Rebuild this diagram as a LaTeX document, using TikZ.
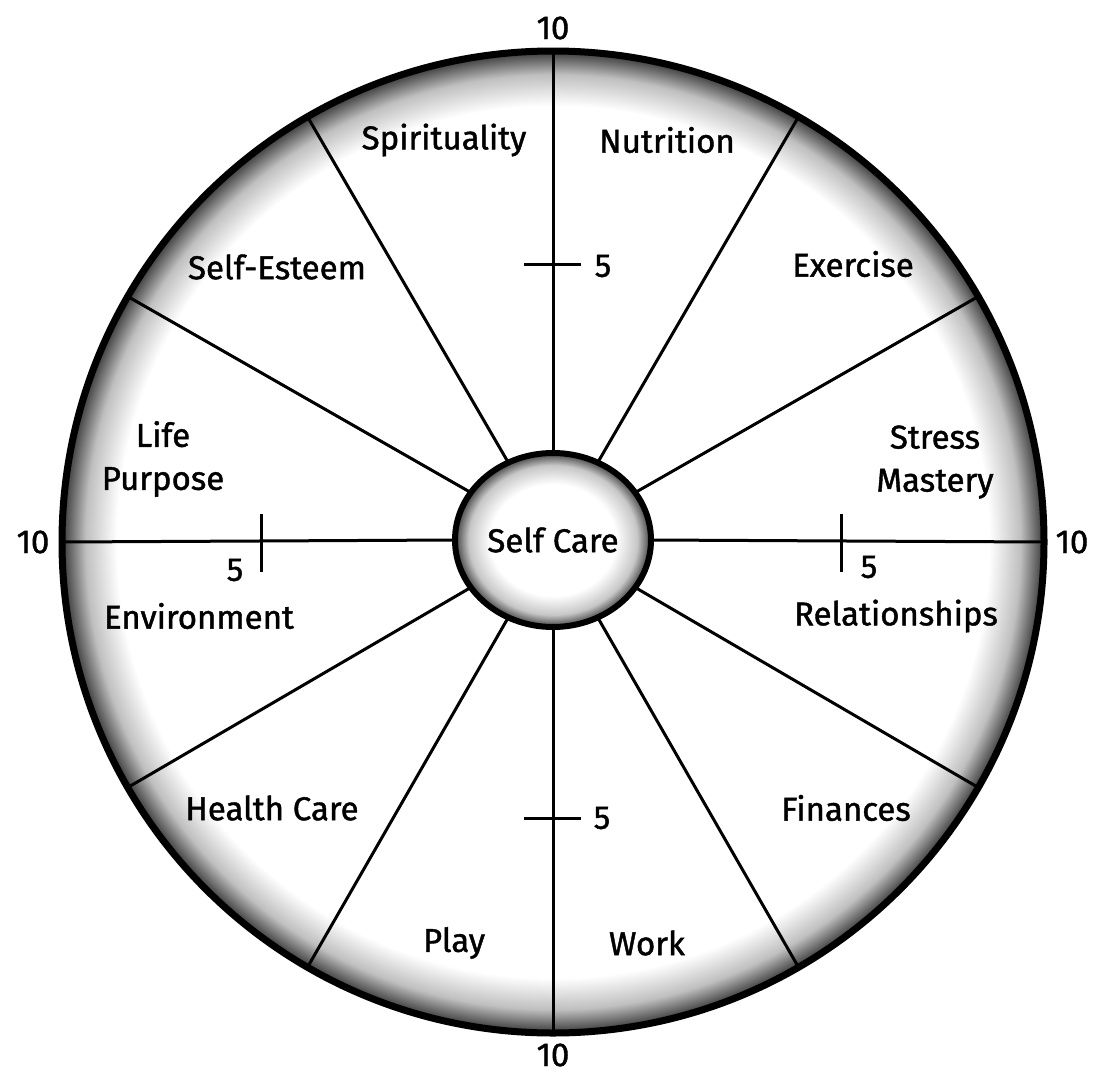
\documentclass[tikz,border=0pt]{standalone}
\usepackage{fontspec}
\setmainfont{Fira Sans}[FakeBold=1.3]
\usetikzlibrary{shapes.geometric}

% grey rims fading to white inside
\pgfdeclareradialshading{rimfade}{\pgfpointorigin}{color(0bp)=(white); color(22.2bp)=(white); color(23.8bp)=(black!25); color(25bp)=(black!78); color(50bp)=(black!78)}
\pgfdeclareradialshading{hubfade}{\pgfpointorigin}{color(0bp)=(white); color(16bp)=(white); color(21.5bp)=(black!22); color(25bp)=(black!75); color(50bp)=(black!75)}

\tikzset{
  % outer wheel
  wheel/.style={
    circle, draw=black, line width=7pt, shading=rimfade,
    inner sep=0pt, outer sep=0pt, minimum size=982pt
  },
  % centre of the wheel
  hub/.style={
    ellipse, draw=black, line width=6pt, shading=hubfade,
    inner sep=0pt, outer sep=0pt, minimum width=196pt, minimum height=174pt,
    font=\fontsize{33}{38}\selectfont
  },
  % divider lines
  spoke/.style={line width=3pt},
  % mark at the value 5
  midmark/.style={line width=3pt},
  % segment names
  seg/.style={font=\fontsize{33}{43}\selectfont, align=center},
  % scale numbers
  num/.style={font=\fontsize{33}{38}\selectfont}
}

\begin{document}
\begin{tikzpicture}[x=1pt, y=-1pt]
  \useasboundingbox (0,0) rectangle (1096,1084);

  \node[wheel] (rim)  at (553,542) {};
  \node[hub]   (core) at (553,540) {Self Care};

  % twelve spokes
  \foreach \a in {0,30,...,330}
    \draw[spoke] (core.\a) -- (rim.\a);

  % marks at 5
  \draw[midmark] (524,264) -- (581,264);
  \draw[midmark] (524,818) -- (581,818);
  \draw[midmark] (261,514) -- (261,572);
  \draw[midmark] (841,514) -- (841,572);

  \node[num] (fiveT) at (603,266) {5};
  \node[num] (fiveB) at (602,818) {5};
  \node[num] (fiveL) at (235,570) {5};
  \node[num] (fiveR) at (869,567) {5};

  \node[num] (tenT) at (553,28)   {10};
  \node[num] (tenB) at (553,1055) {10};
  \node[num] (tenL) at (33,542)   {10};
  \node[num] (tenR) at (1072,542) {10};

  % segments
  \node[seg] (spirit) at (444,140) {Spirituality};
  \node[seg] (nutri)  at (667,140) {Nutrition};
  \node[seg] (esteem) at (277,267) {Self-Esteem};
  \node[seg] (exerc)  at (853,264) {Exercise};
  \node[seg] (life)   at (163,459) {Life\\Purpose};
  \node[seg] (stress) at (935,462) {Stress\\Mastery};
  \node[seg] (envir)  at (199,616) {Environment};
  \node[seg] (relat)  at (896,616) {Relationships};
  \node[seg] (health) at (272,808) {Health Care};
  \node[seg] (financ) at (846,808) {Finances};
  \node[seg] (play)   at (454,943) {Play};
  \node[seg] (work)   at (647,943) {Work};

\end{tikzpicture}
\end{document}
